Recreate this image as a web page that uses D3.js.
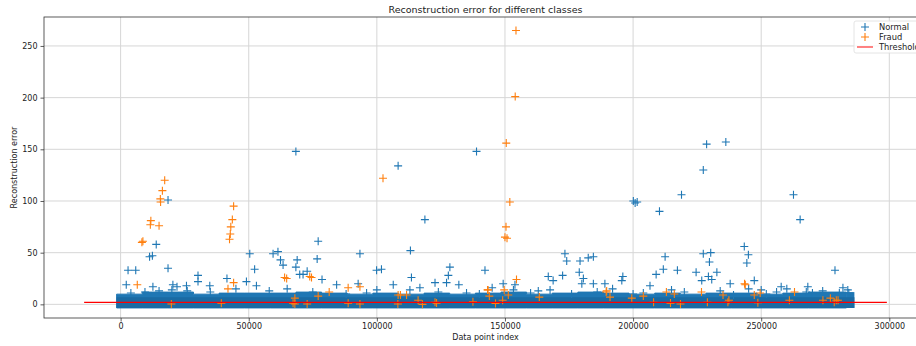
<!DOCTYPE html>
<html>
<head>
<meta charset="utf-8">
<script src="https://cdnjs.cloudflare.com/ajax/libs/d3/7.8.5/d3.min.js"></script>
<style>
  body { margin: 0; background: #fff; }
  svg { font-family: "DejaVu Sans", sans-serif; display: block; }
</style>
</head>
<body>
<div id="chart"></div>
<script>
// dense band of normal points: bin start index, low and high error of the band
const bandStarts = [0, 10000, 20000, 30000, 40000, 50000, 60000, 70000, 80000, 90000, 100000, 110000, 120000, 130000, 140000,
    150000, 160000, 170000, 180000, 190000, 200000, 210000, 220000, 230000, 240000, 250000, 260000, 270000, 280000]
const bandEnd = 284807
const bandLow = [0.4, 0.4, 0.4, 0.4, 0.4, 0.4, 0.4, 0.4, 0.4, 0.4, 0.4, 0.4, 0.4, 0.4, 0.4,
    0.4, 0.4, 0.4, 0.4, 0.4, 0.4, 0.4, 0.4, 0.4, 0.4, 0.4, 0.4, 0.4, 0.4]
const bandTop = [6, 8, 8, 6, 7, 7, 7, 8, 7, 6, 7, 6, 7, 6, 7,
    8, 6, 7, 8, 7, 6, 7, 6, 7, 7, 6, 7, 8, 8]

// points above the band: [index, reconstruction error]
const normalPoints = [
    [68400, 148], [108300, 134], [138900, 148], [118750, 82], [113100, 52], [236200, 157], [228700, 155], [227400, 130],
    [218900, 106], [200100, 100], [201600, 99], [200800, 98], [210300, 90], [262600, 106], [265200, 82], [243400, 56],
    [245000, 48], [244400, 40], [247300, 23], [278800, 33], [18500, 101], [13900, 58], [11300, 46], [12400, 47],
    [2900, 33], [5900, 33], [2200, 19], [18500, 35], [30200, 28], [30200, 22], [50400, 49], [52300, 34], [59500, 49],
    [61400, 51], [62400, 43], [63400, 38], [68900, 43], [68400, 36], [69900, 29], [71200, 29], [77100, 61], [76700, 44],
    [78600, 24], [72800, 32], [93400, 49], [99900, 33], [101800, 34], [41500, 25], [49100, 22], [53000, 18], [25700, 18],
    [34800, 18], [20400, 19], [22000, 17], [12600, 17], [84300, 19], [92700, 20], [106400, 19], [113500, 26], [112900, 14],
    [116800, 16], [122700, 21], [128500, 36], [127900, 28], [127200, 21], [132000, 19], [142200, 33], [149300, 20],
    [153900, 19], [153300, 14], [166900, 27], [168800, 23], [167600, 14], [173400, 49], [174100, 42], [179300, 42],
    [182500, 45], [184500, 46], [172500, 28], [179000, 31], [180600, 25], [180000, 20], [184500, 20], [189000, 20],
    [196000, 27], [195600, 23], [206600, 18], [209000, 29], [211800, 34], [212500, 46], [217300, 33], [224600, 31],
    [227400, 49], [230300, 50], [229800, 41], [229400, 27], [232700, 31], [226800, 23], [230700, 24], [237900, 20],
    [257800, 17], [268200, 17], [267600, 12], [281900, 16], [283800, 14], [280500, 11], [284200, 11], [239200, 9],
    [245100, 15], [20000, 14], [9500, 12], [35000, 12], [58000, 13], [88000, 10], [140000, 10], [160000, 11],
    [200000, 10], [220000, 12], [250000, 14], [270000, 11], [256000, 12], [45000, 15], [100000, 14], [4000, 11],
    [15000, 13], [26000, 13], [65000, 15], [75000, 12], [96000, 11], [124000, 12], [135000, 11], [145000, 16],
    [163000, 13], [176000, 10], [186000, 12], [192000, 15], [204000, 11], [215000, 14], [234000, 13], [252000, 10],
    [260000, 15], [274000, 13]
]
const fraudPoints = [
    [154300, 265], [154000, 201], [150500, 156], [151900, 99], [150400, 75], [150000, 65], [150800, 64], [102400, 122],
    [17200, 120], [16300, 110], [15500, 102], [15600, 99], [11800, 81], [11600, 77], [15000, 76], [8700, 61], [8300, 60],
    [6500, 19], [44100, 95], [43600, 82], [43000, 75], [42800, 68], [42500, 63], [41900, 15], [44100, 21], [64000, 26],
    [64800, 25], [73800, 27], [74500, 26], [77100, 8], [81400, 12], [88800, 16], [93400, 17], [108300, 9], [109200, 9],
    [111600, 9], [116100, 4], [122700, 2], [143400, 14], [143200, 14], [151300, 9], [154500, 24], [143900, 8],
    [149100, 4], [149700, 14], [163400, 7], [189500, 12], [189700, 13], [191000, 7], [199500, 6], [204000, 8],
    [213000, 12], [216100, 10], [226700, 12], [235100, 9], [237400, 4], [243500, 20], [243800, 19], [247300, 9],
    [249600, 11], [261000, 4], [263000, 12], [274100, 4], [277000, 6], [279300, 4], [280000, 4],
    [19800, 0.3], [39300, 1], [68000, 0.3], [72800, 0.3], [88800, 1], [93400, 0.3], [108200, 0.3], [117800, 0],
    [123300, 1.2], [137500, 2.5], [146300, 0.8], [214600, 1.2], [218500, 0.3], [248700, 1.6], [67300, 1], [68000, 6],
    [208000, 2], [229000, 2], [237000, 2], [278500, 2]
]
const threshold = 2
const thresholdFrom = -14240
const thresholdTo = 299046

const xTicks = [0, 50000, 100000, 150000, 200000, 250000, 300000]
const yTicks = [0, 50, 100, 150, 200, 250]
const seriesNames = ['Normal', 'Fraud', 'Threshold']

const width = 916, height = 346
const margin = { top: 17, left: 44, plotRight: 927, bottom: 318 }
const blue = '#1f77b4', orange = '#ff7f0e'

const svg = d3.select('#chart').append('svg')
    .attr('width', width)
    .attr('height', height)

const x = d3.scaleLinear().domain([-29904, 314711]).range([margin.left, margin.plotRight])
const y = d3.scaleLinear().domain([-13.2, 278]).range([margin.bottom, margin.top])

// grid
svg.append('g').selectAll('line').data(xTicks).join('line')
    .attr('x1', d => x(d)).attr('x2', d => x(d))
    .attr('y1', margin.top).attr('y2', margin.bottom)
    .attr('stroke', '#d6d6d6').attr('stroke-width', 1)
svg.append('g').selectAll('line').data(yTicks).join('line')
    .attr('x1', margin.left).attr('x2', margin.plotRight)
    .attr('y1', d => y(d)).attr('y2', d => y(d))
    .attr('stroke', '#d6d6d6').attr('stroke-width', 1)

const plot = svg.append('g')
const pad = 4 // half size of a marker
const plus = `M${-pad},0H${pad}M0,${-pad}V${pad}`

// dense band
const bandArea = d3.area()
    .curve(d3.curveStepAfter)
    .x(d => x(d.start))
    .y0(d => y(d.low) + pad)
    .y1(d => y(d.top) - pad)
const bandData = bandStarts.map((s, i) => ({ start: s, low: bandLow[i], top: bandTop[i] }))
bandData.push({ start: bandEnd, low: bandLow[bandLow.length - 1], top: bandTop[bandTop.length - 1] })
plot.append('path')
    .datum(bandData)
    .attr('d', bandArea)
    .attr('fill', blue)
    .attr('stroke', blue)
    .attr('stroke-width', 1)
    .attr('transform', `translate(${-pad},0)`)
plot.append('rect')
    .attr('x', x(bandEnd) - pad).attr('width', pad * 2)
    .attr('y', y(bandTop[bandTop.length - 1]) - pad)
    .attr('height', y(bandLow[0]) - y(bandTop[bandTop.length - 1]) + pad * 2)
    .attr('fill', blue)
// solid core of the band
plot.append('rect')
    .attr('x', x(0) - pad).attr('width', x(bandEnd) - x(0) + pad * 2)
    .attr('y', y(3) - pad).attr('height', y(bandLow[0]) - y(3) + pad * 2)
    .attr('fill', '#1a6aa3')

plot.append('g').selectAll('path').data(normalPoints).join('path')
    .attr('d', plus)
    .attr('transform', d => `translate(${x(d[0])},${y(d[1])})`)
    .attr('stroke', blue).attr('stroke-width', 1.1).attr('fill', 'none')

plot.append('g').selectAll('path').data(fraudPoints).join('path')
    .attr('d', plus)
    .attr('transform', d => `translate(${x(d[0])},${y(d[1])})`)
    .attr('stroke', orange).attr('stroke-width', 1.1).attr('fill', 'none')

plot.append('line')
    .attr('x1', x(thresholdFrom)).attr('x2', x(thresholdTo))
    .attr('y1', y(threshold)).attr('y2', y(threshold))
    .attr('stroke', 'red').attr('stroke-width', 1.3)

// axes
const xAxis = svg.append('g')
    .attr('transform', `translate(0,${margin.bottom})`)
    .call(d3.axisBottom(x).tickValues(xTicks).tickFormat(d3.format('d')).tickSize(3.5).tickPadding(2))
const yAxis = svg.append('g')
    .attr('transform', `translate(${margin.left},0)`)
    .call(d3.axisLeft(y).tickValues(yTicks).tickSize(3.5).tickPadding(3))
for (const ax of [xAxis, yAxis]) {
    ax.select('.domain').remove()
    ax.selectAll('text').attr('font-size', 8).attr('fill', '#222').attr('font-family', 'DejaVu Sans')
    ax.selectAll('line').attr('stroke', '#333').attr('stroke-width', 0.8)
}

// spines
svg.append('rect')
    .attr('x', margin.left).attr('y', margin.top)
    .attr('width', margin.plotRight - margin.left).attr('height', margin.bottom - margin.top)
    .attr('fill', 'none').attr('stroke', '#333').attr('stroke-width', 0.8)

svg.append('text')
    .attr('x', (margin.left + margin.plotRight) / 2).attr('y', 13)
    .attr('text-anchor', 'middle').attr('font-size', 9.5).attr('fill', '#222')
    .text('Reconstruction error for different classes')
svg.append('text')
    .attr('x', (margin.left + margin.plotRight) / 2).attr('y', 340)
    .attr('text-anchor', 'middle').attr('font-size', 8).attr('fill', '#222')
    .text('Data point index')
svg.append('text')
    .attr('transform', `translate(17,${(margin.top + margin.bottom) / 2}) rotate(-90)`)
    .attr('text-anchor', 'middle').attr('font-size', 8).attr('fill', '#222')
    .text('Reconstruction error')

// legend
const legend = svg.append('g').attr('transform', 'translate(854,21)')
legend.append('rect')
    .attr('width', 70).attr('height', 32).attr('rx', 2)
    .attr('fill', '#fff').attr('fill-opacity', 0.8).attr('stroke', '#ddd').attr('stroke-width', 0.8)
const rows = legend.selectAll('g.row').data(seriesNames).join('g')
    .attr('class', 'row')
    .attr('transform', (d, i) => `translate(0,${6 + i * 10})`)
rows.filter((d, i) => i < 2).append('path')
    .attr('d', plus)
    .attr('transform', 'translate(11,0)')
    .attr('stroke', (d, i) => i === 0 ? blue : orange).attr('stroke-width', 1.1)
rows.filter((d, i) => i === 2).append('line')
    .attr('x1', 3).attr('x2', 19)
    .attr('stroke', 'red').attr('stroke-width', 1.3).attr('opacity', 0.75)
rows.append('text')
    .attr('x', 25).attr('dy', '0.35em')
    .attr('font-size', 8.3).attr('fill', '#222')
    .text(d => d)
</script>
</body>
</html>
